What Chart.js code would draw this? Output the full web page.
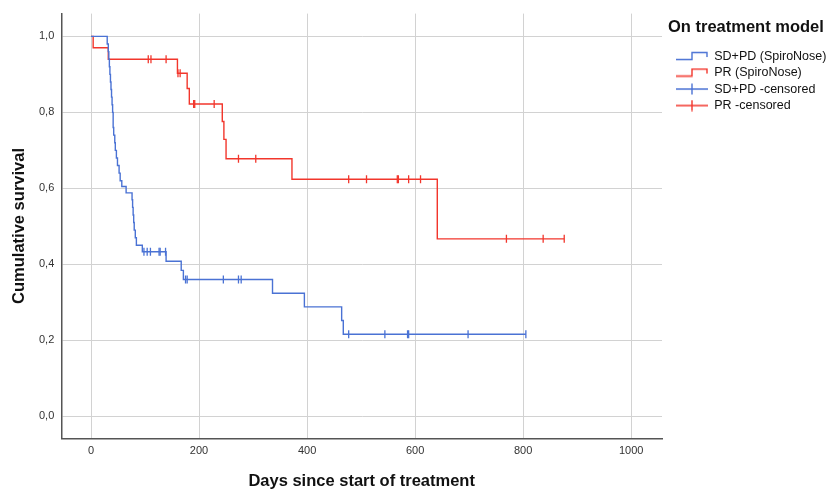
<!DOCTYPE html>
<html>
<head>
<meta charset="utf-8">
<script src="https://cdn.jsdelivr.net/npm/chart.js@4.4.1/dist/chart.umd.min.js"></script>
<style>
  body { margin: 0; background: #fff; }
  #wrap { width: 831px; height: 490px; }
</style>
</head>
<body>
<div id="wrap"><canvas id="myChart" width="831" height="490"></canvas></div>
<script>
// Kaplan-Meier steps (day, survival after the step)
const blueDays = [0, 30, 32, 33, 34, 35, 36, 37, 38, 39, 40, 41, 42, 44, 45, 47, 49, 52, 54, 57, 65,
    76, 77, 78, 79, 80, 82, 84, 95, 139, 167, 171, 336, 395, 464, 467, 805]
const blueSurv = [1.0, 0.98, 0.96, 0.94, 0.92, 0.90, 0.88, 0.86, 0.84, 0.82, 0.80, 0.76, 0.74, 0.72, 0.70, 0.68, 0.66, 0.64, 0.62, 0.605, 0.588,
    0.57, 0.55, 0.53, 0.51, 0.49, 0.47, 0.45, 0.433, 0.408, 0.384, 0.36, 0.324, 0.288, 0.252, 0.216, 0.216]

const redDays = [0, 4, 32, 160, 178, 182, 243, 246, 250, 372, 641, 876]
const redSurv = [1.0, 0.97, 0.94, 0.903, 0.863, 0.822, 0.776, 0.729, 0.678, 0.624, 0.467, 0.467]

// censored cases
const blueCensDays = [98, 104, 110, 126, 128, 138, 175, 178, 245, 273, 278, 477, 544, 586, 588, 698, 805]
const blueCensSurv = [0.433, 0.433, 0.433, 0.433, 0.433, 0.433, 0.36, 0.36, 0.36, 0.36, 0.36, 0.216, 0.216, 0.216, 0.216, 0.216, 0.216]
const redCensDays = [106, 111, 139, 161, 165, 190, 192, 228, 273, 305, 477, 510, 567, 569, 588, 610, 769, 837, 876]
const redCensSurv = [0.94, 0.94, 0.94, 0.903, 0.903, 0.822, 0.822, 0.822, 0.678, 0.678, 0.624, 0.624, 0.624, 0.624, 0.624, 0.624, 0.467, 0.467, 0.467]

const seriesNames = ['SD+PD (SpiroNose)', 'PR (SpiroNose)', 'SD+PD -censored', 'PR -censored']
const xTicks = [0, 200, 400, 600, 800, 1000]
const yTicks = [0, 0.2, 0.4, 0.6, 0.8, 1.0]

const blue = '#4a72d4'
const red = '#f2362c'
const font = '"Liberation Sans", Arial, sans-serif'

function pairs(xs, ys) {
    return xs.map((x, i) => ({ x: x, y: ys[i] }))
}

// small legend icons (4px empty on the left as indent)
function stepIcon(color) {
    const c = document.createElement('canvas')
    c.width = 36; c.height = 10
    const g = c.getContext('2d')
    g.strokeStyle = color; g.lineWidth = 1.4
    g.beginPath()
    g.moveTo(4, 8.5); g.lineTo(20, 8.5); g.lineTo(20, 1.5); g.lineTo(35, 1.5); g.lineTo(35, 6)
    g.stroke()
    return c
}
function crossIcon(color) {
    const c = document.createElement('canvas')
    c.width = 36; c.height = 12
    const g = c.getContext('2d')
    g.strokeStyle = color; g.lineWidth = 1.4
    g.beginPath()
    g.moveTo(4, 6); g.lineTo(36, 6)
    g.moveTo(20, 0.5); g.lineTo(20, 11.5)
    g.stroke()
    return c
}
const icons = [stepIcon(blue), stepIcon(red), crossIcon(blue), crossIcon(red)]

// legend: fixed width, drawn a few px right of the plot
const legendTweak = {
    id: 'legendTweak',
    afterInit(chart) {
        const lg = chart.legend
        if (!lg) return
        const fit = lg.fit
        lg.fit = function () { fit.call(this); this.width = 169 }
        const draw = lg.draw
        lg.draw = function (area) {
            this.ctx.save()
            this.ctx.translate(668 - this.left, 0)
            draw.call(this, area)
            this.ctx.restore()
        }
    }
}

const ctx = document.getElementById('myChart')
const chart = new Chart(ctx, {
    type: 'line',
    data: {
        datasets: [{
            label: seriesNames[0],
            data: pairs(blueDays, blueSurv),
            borderColor: blue,
            borderWidth: 1.4,
            stepped: 'before',
            pointRadius: 0,
            fill: false,
        }, {
            label: seriesNames[1],
            data: pairs(redDays, redSurv),
            borderColor: red,
            borderWidth: 1.4,
            stepped: 'before',
            pointRadius: 0,
            fill: false,
        }, {
            label: seriesNames[2],
            data: pairs(blueCensDays, blueCensSurv),
            showLine: false,
            pointStyle: 'line',
            rotation: 90,
            pointRadius: 4,
            borderColor: blue,
            pointBorderWidth: 1.3,
        }, {
            label: seriesNames[3],
            data: pairs(redCensDays, redCensSurv),
            showLine: false,
            pointStyle: 'line',
            rotation: 90,
            pointRadius: 4,
            borderColor: red,
            pointBorderWidth: 1.3,
        }],
    },
    plugins: [legendTweak],
    options: {
        responsive: false,
        animation: false,
        layout: { padding: { top: 3, right: 0, left: 11, bottom: 0 } },
        plugins: {
            tooltip: { enabled: false },
            legend: {
                position: 'right',
                align: 'start',
                title: {
                    display: true,
                    text: 'On treatment model',
                    position: 'start',
                    color: '#111',
                    font: { family: font, size: 16.5, weight: 'bold' },
                    padding: { top: 16, bottom: 7 },
                },
                labels: {
                    usePointStyle: true,
                    pointStyleWidth: 36,
                    boxHeight: 12,
                    padding: 4,
                    color: '#222',
                    font: { family: font, size: 12.5 },
                    generateLabels: () => seriesNames.map((n, i) => ({
                        text: n,
                        pointStyle: icons[i],
                        fillStyle: 'transparent',
                        strokeStyle: 'transparent',
                        lineWidth: 0,
                        datasetIndex: i,
                    })),
                },
            },
        },
        scales: {
            x: {
                type: 'linear',
                min: -55,
                max: 1057,
                afterBuildTicks: s => { s.ticks = xTicks.map(v => ({ value: v })) },
                grid: { color: '#d2d2d2', lineWidth: 1, drawTicks: false },
                border: { color: '#555', width: 1.5 },
                ticks: {
                    color: '#333',
                    padding: 6,
                    font: { family: font, size: 11 },
                    maxRotation: 0,
                    callback: v => String(v),
                },
                title: {
                    display: true,
                    text: 'Days since start of treatment',
                    color: '#111',
                    font: { family: font, size: 16.5, weight: 'bold', lineHeight: 1 },
                    padding: { top: 10, bottom: 0 },
                },
            },
            y: {
                min: -0.058,
                max: 1.06,
                afterBuildTicks: s => { s.ticks = yTicks.map(v => ({ value: v })) },
                grid: { color: '#d2d2d2', lineWidth: 1, drawTicks: false },
                border: { color: '#555', width: 1.5 },
                ticks: {
                    color: '#333',
                    padding: 7,
                    font: { family: font, size: 11 },
                    callback: v => v.toFixed(1).replace('.', ','),
                },
                title: {
                    display: true,
                    text: 'Cumulative survival',
                    color: '#111',
                    font: { family: font, size: 16.5, weight: 'bold', lineHeight: 1 },
                    padding: { top: 0, bottom: 4.5 },
                },
            },
        },
    },
})
</script>
</body>
</html>
